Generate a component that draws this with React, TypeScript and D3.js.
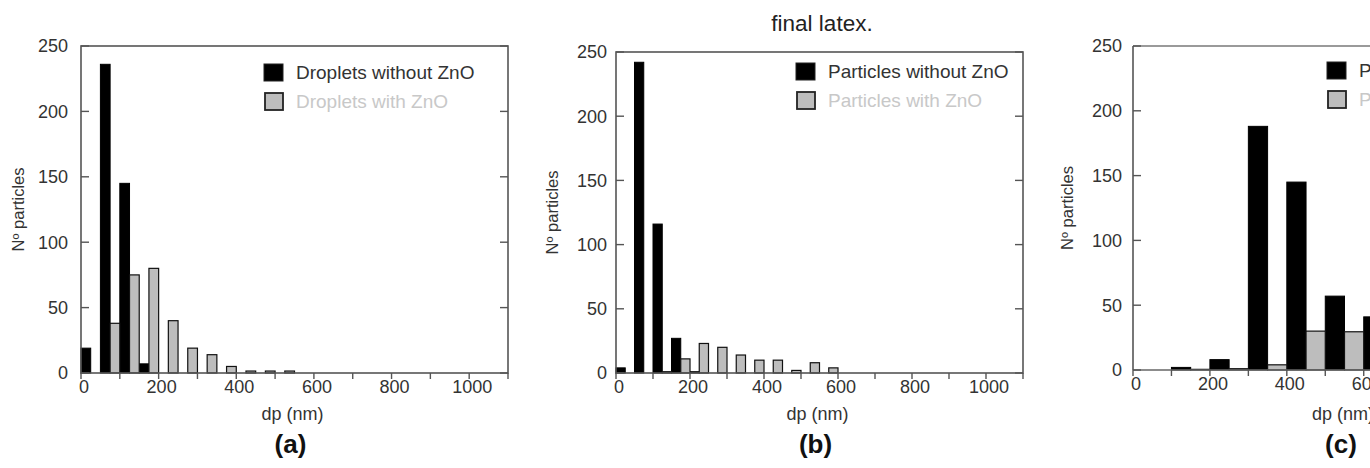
import React from 'react';
import * as d3 from 'd3';

// bin starts (nm) and counts
const binsA = [0, 50, 100, 150, 200, 250, 300, 350, 400, 450, 500];
const dropletsWithoutZnO = [19, 236, 145, 7, 0, 0, 0, 0, 0, 0, 0];
const dropletsWithZnO = [0, 38, 75, 80, 40, 19, 14, 5, 1.5, 1.5, 1.5];

const binsB = [0, 50, 100, 150, 200, 250, 300, 350, 400, 450, 500, 550];
const particlesWithoutZnOB = [4, 242, 116, 27, 1, 0, 0, 0, 0, 0, 0, 0];
const particlesWithZnOB = [0, 0, 1, 11, 23, 20, 14, 10, 10, 2, 8, 4];

const binsC = [0, 100, 200, 300, 400, 500, 600];
const particlesWithoutZnOC = [0, 2, 8, 188, 145, 57, 41];
const particlesWithZnOC = [0, 0.5, 1, 4, 30, 29.5];

const yTicks = [0, 50, 100, 150, 200, 250];
const xTicks = [0, 100, 200, 300, 400, 500, 600, 700, 800, 900, 1000, 1100];
const xLabels = [0, 200, 400, 600, 800, 1000];

const FONT = '"Liberation Sans", Arial, sans-serif';

type Props = {
  left: number; right: number; top: number; bottom: number;
  bins: number[]; step: number; black: number[]; gray: (number | undefined)[];
  names: string[]; tag: string; legendX: number; legendY: number;
  ylabelX: number; tickGap: number; partial?: boolean;
};

function Panel(p: Props) {
  const x = d3.scaleLinear().domain([0, 1100]).range([p.left, p.right]);
  const y = d3.scaleLinear().domain([0, 250]).range([p.bottom, p.top]);
  // panel (c) runs past the page edge, its titles sit under the visible part
  const cx = p.partial ? 1345 : (p.left + p.right) / 2;

  return (
    <g fontFamily={FONT}>
      {/* bars */}
      {p.bins.map((b, i) => {
        const v = p.black[i];
        if (!v) return null;
        return (
          <rect key={'k' + i} x={x(b)} y={y(v)} width={x(b + p.step / 2) - x(b)}
            height={y(0) - y(v)} fill="#000" stroke="#000" strokeWidth={1} />
        );
      })}
      {p.bins.map((b, i) => {
        const v = p.gray[i];
        if (!v) return null;
        return (
          <rect key={'g' + i} x={x(b + p.step / 2)} y={y(v)}
            width={x(b + p.step) - x(b + p.step / 2)} height={y(0) - y(v)}
            fill="#bdbdbd" stroke="#111" strokeWidth={1.2} />
        );
      })}

      {/* frame */}
      {p.partial ? (
        <g>
          <line x1={p.left} x2={1370} y1={p.top} y2={p.top} stroke="#9a9a9a" strokeWidth={2} />
          <line x1={p.left} x2={1370} y1={p.bottom} y2={p.bottom} stroke="#666" strokeWidth={1.6} />
          <line x1={p.left} x2={p.left} y1={p.top} y2={p.bottom} stroke="#555" strokeWidth={1.6} />
        </g>
      ) : (
        <rect x={p.left} y={p.top} width={p.right - p.left} height={p.bottom - p.top}
          fill="none" stroke="#555" strokeWidth={1.6} />
      )}

      {/* y ticks, inward on both sides */}
      {yTicks.map(t => (
        <g key={'y' + t}>
          <line x1={p.left} x2={p.left + 8} y1={y(t)} y2={y(t)} stroke="#555" strokeWidth={1.4} />
          {!p.partial && (
            <line x1={p.right} x2={p.right - 8} y1={y(t)} y2={y(t)} stroke="#555" strokeWidth={1.4} />
          )}
          <text x={p.left - p.tickGap} y={y(t)} dy="0.36em" textAnchor="end"
            fontSize={18} fill="#333">{t}</text>
        </g>
      ))}

      {/* x ticks, outward */}
      {xTicks.map(t => (
        <line key={'x' + t} x1={x(t)} x2={x(t)} y1={p.bottom} y2={p.bottom + 6}
          stroke="#555" strokeWidth={1.4} />
      ))}
      {xLabels.map(t => (
        <text key={'xl' + t} x={x(t) + 3} y={p.bottom + 20} textAnchor="middle"
          fontSize={18} fill="#333">{t}</text>
      ))}

      <text x={cx - 2} y={420} textAnchor="middle" fontSize={18} fill="#333">dp (nm)</text>
      <text x={cx - 4} y={453} textAnchor="middle" fontSize={26} fontWeight="bold" fill="#111">{p.tag}</text>
      <text transform={`translate(${p.ylabelX},${(p.top + p.bottom) / 2}) rotate(-90)`}
        textAnchor="middle" fontSize={16.5} fill="#333">Nº particles</text>

      {/* legend */}
      <rect x={p.legendX} y={p.legendY} width={19} height={17} fill="#000" stroke="#222" />
      <text x={p.legendX + 32} y={p.legendY + 15} fontSize={19} fill="#333">{p.names[0]}</text>
      <rect x={p.legendX + 1} y={p.legendY + 29} width={18} height={17} fill="#bdbdbd"
        stroke="#222" strokeWidth={1.8} />
      <text x={p.legendX + 32} y={p.legendY + 44} fontSize={19} fill="#c8c8c8">{p.names[1]}</text>
    </g>
  );
}

export default function App() {
  return (
    <svg width={1370} height={468} style={{ position: 'absolute', left: 0, top: 0, background: '#fff' }}>
      <text x={822} y={31} textAnchor="middle" fontFamily={FONT} fontSize={22.5} fill="#222">final latex.</text>
      <Panel left={81} right={508} top={46} bottom={373} bins={binsA} step={50}
        black={dropletsWithoutZnO} gray={dropletsWithZnO}
        names={['Droplets without ZnO', 'Droplets with ZnO']} tag="(a)"
        legendX={264} legendY={64} ylabelX={24} tickGap={13} />
      <Panel left={616} right={1023} top={52} bottom={373} bins={binsB} step={50}
        black={particlesWithoutZnOB} gray={particlesWithZnOB}
        names={['Particles without ZnO', 'Particles with ZnO']} tag="(b)"
        legendX={796} legendY={63} ylabelX={558} tickGap={9} />
      <Panel left={1133} right={1556} top={46} bottom={370} bins={binsC} step={100}
        black={particlesWithoutZnOC} gray={particlesWithZnOC}
        names={['Particles without ZnO', 'Particles with ZnO']} tag="(c)"
        legendX={1327} legendY={62} ylabelX={1073} tickGap={11} partial />
    </svg>
  );
}
